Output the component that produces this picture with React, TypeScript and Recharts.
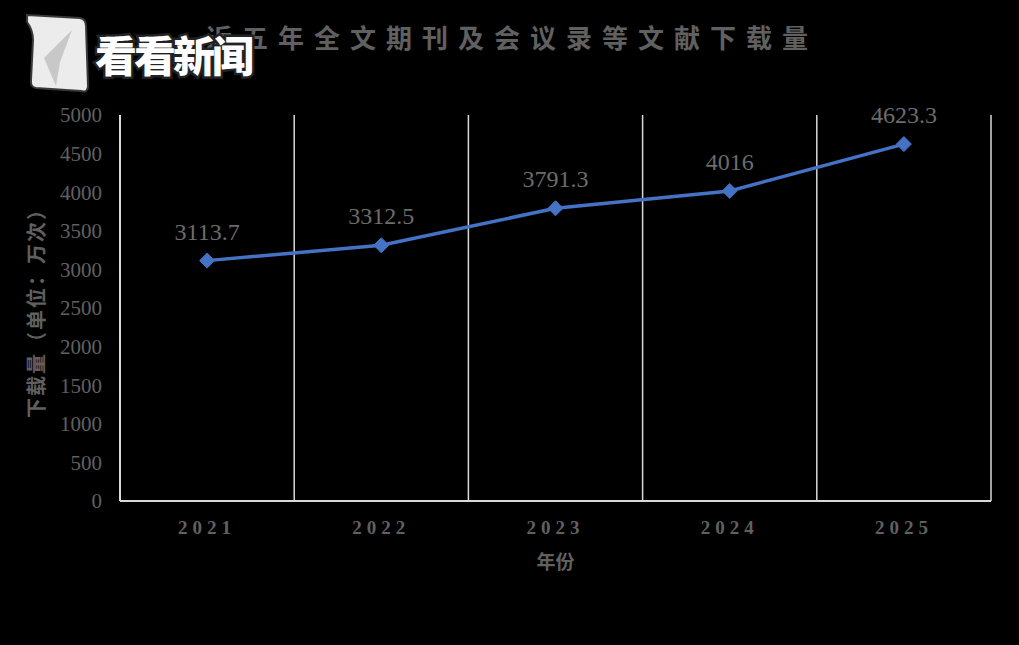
import React from "react";
import { LineChart, Line, XAxis, YAxis, CartesianGrid, LabelList } from "recharts";

const years = ["2021", "2022", "2023", "2024", "2025"];
const downloads = [3113.7, 3312.5, 3791.3, 4016, 4623.3];
const yTicks = [0, 500, 1000, 1500, 2000, 2500, 3000, 3500, 4000, 4500, 5000];
const gridTicks = [0, 1, 2, 3, 4, 5];
const catTicks = [0.5, 1.5, 2.5, 3.5, 4.5];

const title = "近五年全文期刊及会议录等文献下载量";
const xTitle = "年份";
const yTitle = "下载量（单位：万次）";

const data = years.map((y, i) => ({ year: y, pos: i + 0.5, value: downloads[i] }));

const GRAY = "#606060";
const LABEL_GRAY = "#6c6c6c";
const SERIF = "'Liberation Serif', 'Times New Roman', 'Noto Sans CJK SC', serif";
const CJK = "'Noto Sans CJK SC', 'Liberation Serif', serif";

const Diamond = (props: any) => {
  const { cx, cy } = props;
  if (cx == null || cy == null) return null;
  const r = 7.5;
  return (
    <path
      d={`M${cx},${cy - r} L${cx + r},${cy} L${cx},${cy + r} L${cx - r},${cy} Z`}
      fill="#4472C4"
      stroke="#4472C4"
    />
  );
};

const yearLabel = (v: number) => years[Math.floor(v)] ?? "";

const gridGen = (props: any) => {
  const xAxis = props?.xAxis;
  if (xAxis && typeof xAxis.scale === "function") {
    return gridTicks.map((t) => xAxis.scale(t));
  }
  const off = props.offset;
  return gridTicks.map((t) => off.left + (t * off.width) / years.length);
};

export default function App() {
  return (
    <div style={{ position: "absolute", left: 0, top: 0, width: 1019, height: 645, background: "#000", overflow: "hidden" }}>
      <LineChart
        width={1019}
        height={645}
        data={data}
        margin={{ top: 115, right: 28, bottom: 84, left: 60 }}
      >
        <CartesianGrid stroke="#d9d9d9" strokeWidth={1.5} horizontal={false} vertical={true} verticalCoordinatesGenerator={gridGen} />
        <XAxis
          dataKey="pos"
          type="number"
          domain={[0, 5]}
          ticks={catTicks}
          tickFormatter={yearLabel}
          height={60}
          axisLine={{ stroke: "#d9d9d9", strokeWidth: 2 }}
          tickLine={false}
          tickSize={0}
          tickMargin={20}
          interval={0}
          tick={{ fill: GRAY, fontSize: 19, fontWeight: 700, fontFamily: SERIF, letterSpacing: 5 }}
          label={{ value: xTitle, position: "insideBottom", offset: -8, fill: GRAY, fontSize: 19, fontWeight: 700, fontFamily: CJK }}
        />
        <YAxis
          domain={[0, 5000]}
          ticks={yTicks}
          width={60}
          axisLine={{ stroke: "#d9d9d9", strokeWidth: 2 }}
          tickLine={false}
          tickSize={0}
          tickMargin={18}
          tick={{ fill: GRAY, fontSize: 21, fontFamily: SERIF }}
          label={{ value: yTitle, angle: -90, position: "insideLeft", offset: -23, fill: GRAY, fontSize: 20, fontWeight: 700, fontFamily: CJK, letterSpacing: 2, style: { textAnchor: "middle" } }}
        />
        <Line
          type="linear"
          dataKey="value"
          stroke="#4472C4"
          strokeWidth={3.5}
          dot={<Diamond />}
          activeDot={false}
          isAnimationActive={false}
        >
          <LabelList dataKey="value" position="top" offset={21} fill={LABEL_GRAY} fontSize={24} fontFamily={SERIF} />
        </Line>
        <text x={512} y={48} textAnchor="middle" fill={GRAY} fontSize={26} fontWeight={700} fontFamily={CJK} letterSpacing={10}>
          {title}
        </text>
      </LineChart>
      <svg style={{ position: "absolute", left: 0, top: 0 }} width={300} height={100}>
        <path d="M27,15 L80,18 Q86,19 86,26 L88,86 Q88,93 81,91 L36,88 Q30,87 31,80 L33,40 Q33,30 27,22 Z" fill="#ececec" stroke="#3a3a3a" strokeWidth={2} />
        <path d="M72,30 L44,58 L56,86 L60,62 Z" fill="#c8c8c8" />
        <text x={95} y={72} fill="#fff" stroke="#222" strokeWidth={5} paintOrder="stroke" fontSize={42} fontWeight={900} fontFamily={CJK} letterSpacing={-3}>
          看看新闻
        </text>
      </svg>
    </div>
  );
}
